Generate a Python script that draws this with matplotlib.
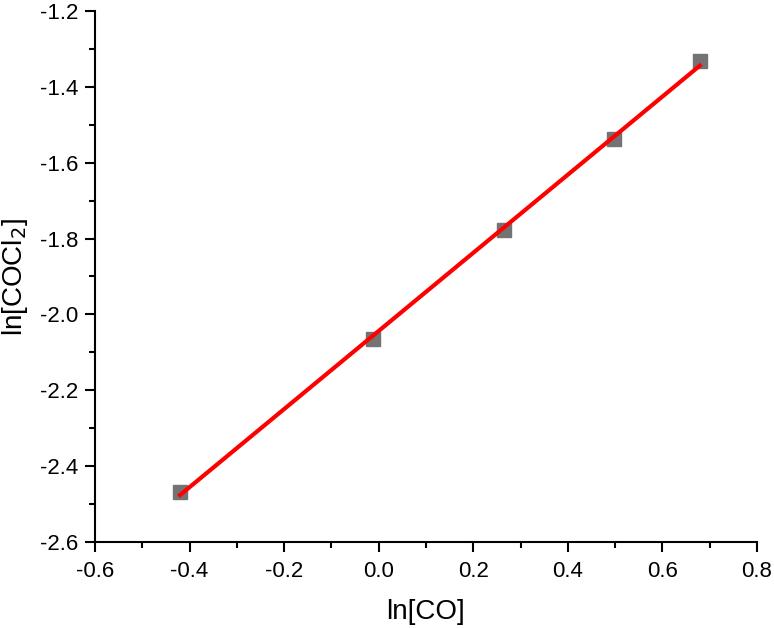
import numpy as np
import matplotlib
matplotlib.use('Agg')
import matplotlib.pyplot as plt
from matplotlib.ticker import MultipleLocator

# точки
ln_co = [-0.420, -0.012, 0.265, 0.498, 0.679]
ln_cocl2 = [-2.467, -2.065, -1.777, -1.538, -1.331]

x_ticks = [-0.6, -0.4, -0.2, 0.0, 0.2, 0.4, 0.6, 0.8]
y_ticks = [-2.6, -2.4, -2.2, -2.0, -1.8, -1.6, -1.4, -1.2]

plt.rcParams['font.family'] = ['Liberation Sans', 'DejaVu Sans']

fig = plt.figure(figsize=(7.74, 6.28), dpi=100)
ax = fig.add_axes([0.1227, 0.137, 0.8553, 0.8455])

# линейная аппроксимация
k, b = np.polyfit(ln_co, ln_cocl2, 1)
xf = np.array([min(ln_co), max(ln_co)])
ax.plot(ln_co, ln_cocl2, 's', color='#737373', markersize=9.5, zorder=2)
ax.plot(xf, k * xf + b, color='#ff0000', linewidth=3, zorder=3)

ax.set_xlim(-0.6, 0.8)
ax.set_ylim(-2.6, -1.2)
ax.set_xticks(x_ticks)
ax.set_yticks(y_ticks)
ax.set_xticklabels([f'{t:.1f}' for t in x_ticks])
ax.set_yticklabels([f'{t:.1f}' for t in y_ticks])
ax.xaxis.set_minor_locator(MultipleLocator(0.1))
ax.yaxis.set_minor_locator(MultipleLocator(0.1))

for s in ['top', 'right']:
    ax.spines[s].set_visible(False)
for s in ['left', 'bottom']:
    ax.spines[s].set_linewidth(1.5)

ax.tick_params(which='major', direction='out', length=7, width=1.5, labelsize=16)
ax.tick_params(axis='x', which='major', pad=7)
ax.tick_params(axis='y', which='major', pad=5)
ax.tick_params(which='minor', direction='out', length=4, width=1.5)

ax.set_xlabel('ln[CO]', fontsize=20, labelpad=12)
ax.set_ylabel('ln[COCl$_2$]', fontsize=20, labelpad=7)

fig.savefig('out.png', dpi=100)
